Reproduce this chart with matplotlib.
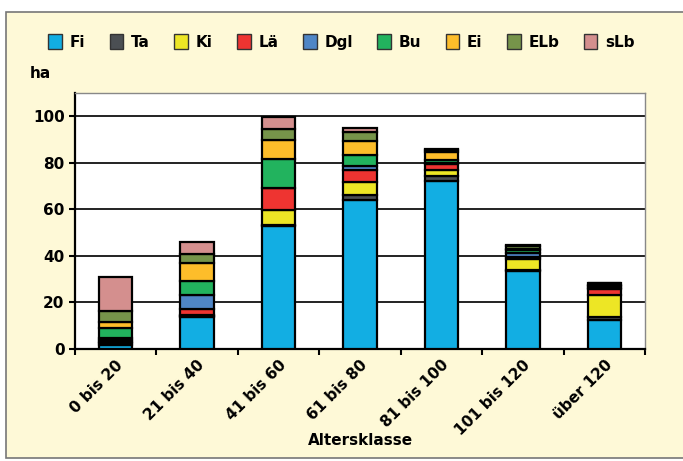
import numpy as np
import matplotlib.pyplot as plt
from matplotlib.patches import Rectangle, Patch

plt.rcParams['font.family'] = ['Liberation Sans Narrow', 'DejaVu Sans']
plt.rcParams['font.weight'] = 'bold'

# data (ha per age class)
classes = ['0 bis 20', '21 bis 40', '41 bis 60', '61 bis 80', '81 bis 100', '101 bis 120', 'über 120']
species = ['Fi', 'Ta', 'Ki', 'Lä', 'Dgl', 'Bu', 'Ei', 'ELb', 'sLb']
Fi = [1.8, 13.7, 53.0, 64.2, 72.0, 33.5, 12.5]
Ta = [0.7, 0.5, 0.3, 1.8, 2.4, 0.5, 1.3]
Ki = [0.3, 0.3, 6.3, 5.7, 2.5, 4.8, 9.6]
La = [1.0, 2.7, 9.4, 5.2, 2.8, 0.8, 2.5]
Dgl = [0.8, 6.1, 0.3, 1.7, 0.3, 1.5, 0.5]
Bu = [4.5, 6.0, 12.2, 4.7, 1.3, 1.5, 0.5]
Ei = [2.6, 7.6, 8.2, 5.9, 3.5, 0.5, 0.5]
ELb = [4.7, 3.9, 4.7, 4.1, 0.6, 1.0, 0.8]
sLb = [14.5, 5.0, 5.5, 1.5, 0.5, 0.5, 0.3]
values = [Fi, Ta, Ki, La, Dgl, Bu, Ei, ELb, sLb]
colors = ['#12AEE3', '#4B4F53', '#EDE625', '#EE3431', '#4F86C6',
          '#22B35E', '#FDBD2A', '#76944A', '#D48F8E']

fig = plt.figure(figsize=(6.83, 4.61), dpi=100)
fig.patch.set_facecolor('white')
# cream frame
fig.add_artist(Rectangle((6/683, 3/461), 1.2, 446/461, transform=fig.transFigure,
                         facecolor='#FEF9D7', edgecolor='#777777', lw=1.2, zorder=0))

ax = fig.add_axes([75/683, 1 - 349/461, 570/683, 256/461])
ax.set_facecolor('white')

x = np.arange(len(classes))
bottom = np.zeros(len(classes))
for vals, c in zip(values, colors):
    ax.bar(x, vals, 0.41, bottom=bottom, color=c, edgecolor='black', lw=1.6, zorder=3)
    bottom += np.array(vals)

ax.set_xlim(-0.5, len(classes) - 0.5)
ax.set_ylim(0, 110)
ax.set_yticks(np.arange(0, 101, 20))
ax.set_yticklabels([str(v) for v in range(0, 101, 20)], fontsize=11, fontweight='bold')
for yv in range(20, 101, 20):
    ax.axhline(yv, color='#222222', lw=1.4, zorder=1)

ax.set_xticks(x)
ax.set_xticklabels(classes, rotation=45, ha='right', rotation_mode='anchor',
                   fontsize=11, fontweight='bold')
ax.tick_params(axis='x', length=0, pad=6)
ax.set_xticks(np.arange(-0.5, len(classes)), minor=True)
ax.tick_params(axis='x', which='minor', length=4, width=1.5, direction='out')
ax.tick_params(axis='y', length=4, width=1.5, direction='out')

for s in ['left', 'bottom']:
    ax.spines[s].set_linewidth(1.6)
    ax.spines[s].set_color('black')
for s in ['top', 'right']:
    ax.spines[s].set_linewidth(1.0)
    ax.spines[s].set_color('#888888')

fig.text(360/683, 1 - 440/461, 'Altersklasse', fontsize=11, fontweight='bold',
         ha='center', va='center')
fig.text(40/683, 1 - 74/461, 'ha', fontsize=11, fontweight='bold', ha='center', va='center')

handles = [Patch(facecolor=c, edgecolor='#333333', lw=1) for c in colors]
fig.legend(handles, species, loc='center', bbox_to_anchor=(0.5, 1 - 42/461), ncol=9,
           frameon=False, prop={'size': 11, 'weight': 'bold'},
           handlelength=0.9, handleheight=1.1, handletextpad=0.5, columnspacing=1.6)

fig.savefig('out.png', dpi=100)
